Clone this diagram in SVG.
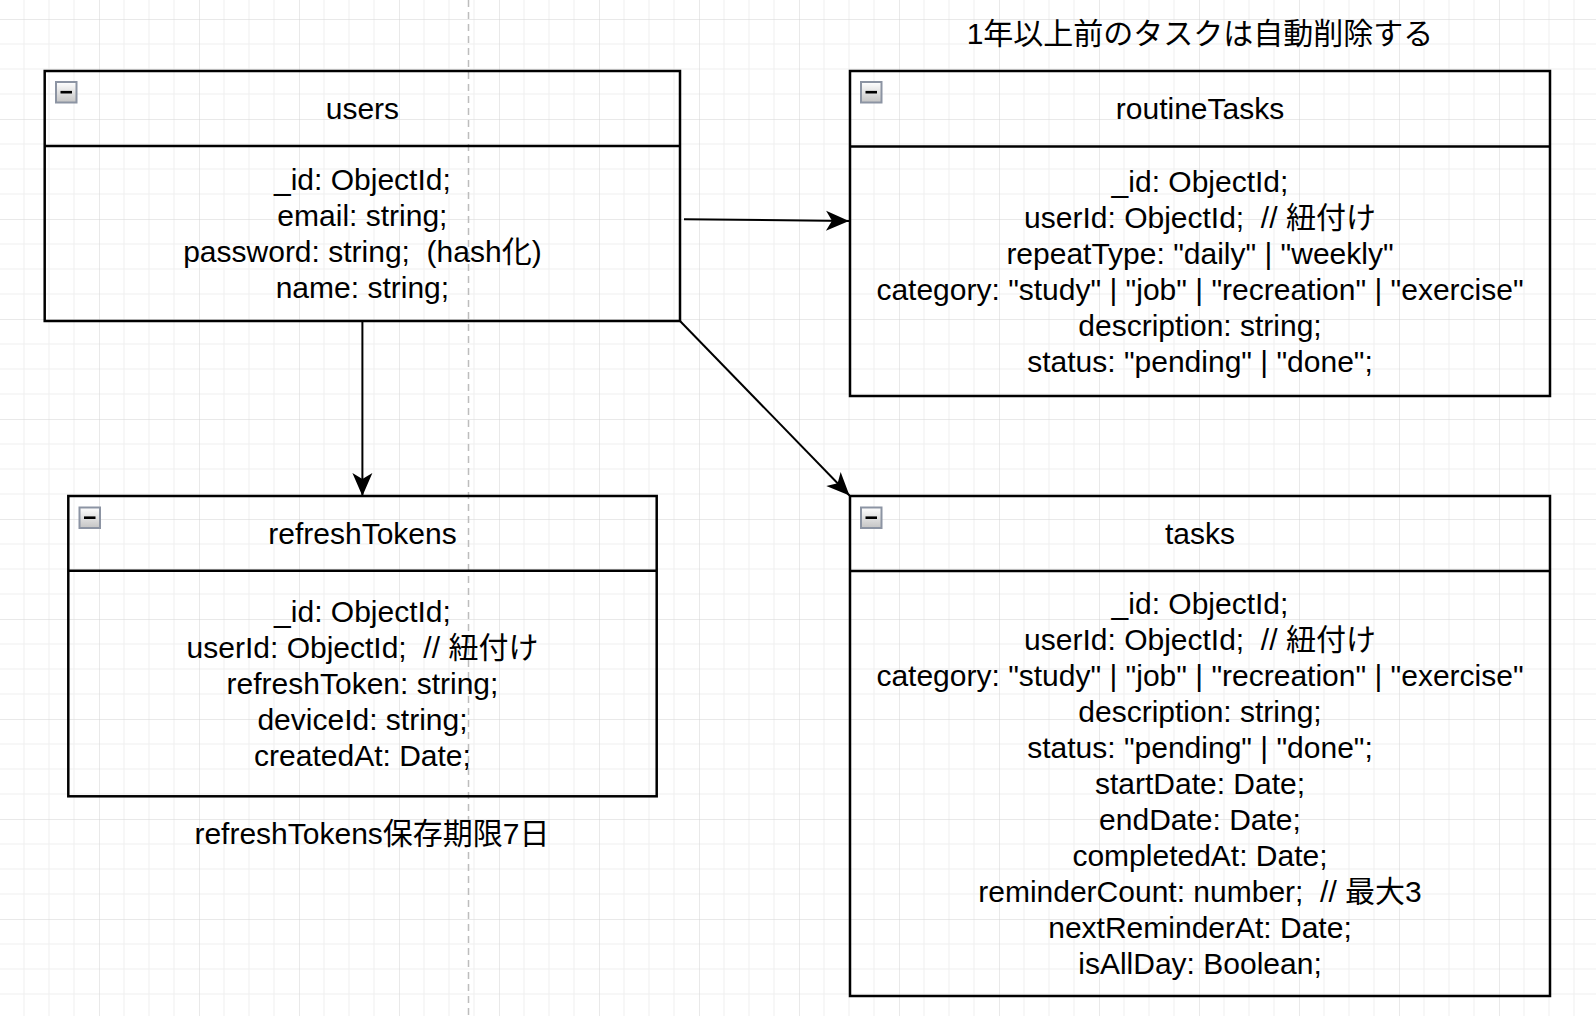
<svg xmlns="http://www.w3.org/2000/svg" width="1596" height="1016" viewBox="0 0 1596 1016">
  <style>
    .box { fill: none; stroke: #000; stroke-width: 2.5; }
    .t { font-family: "Liberation Sans", "Noto Sans CJK JP", sans-serif; font-size: 30px; fill: #000; text-anchor: middle; white-space: pre; }
    .edge { stroke: #000; stroke-width: 2; fill: none; }
    .icon { fill: url(#ig); stroke: #8c94a3; stroke-width: 2; }
    .minus { stroke: #000; stroke-width: 2.6; }
  </style>
  <defs>
    <pattern id="grid" patternUnits="userSpaceOnUse" x="-1" y="19" width="100" height="100">
      <path d="M25 0V100M50 0V100M75 0V100M0 25H100M0 50H100M0 75H100" stroke="#efefef" stroke-width="1"/>
      <path d="M0 0V100M0 0H100" stroke="#d4d4d4" stroke-width="1"/>
    </pattern>
    <linearGradient id="ig" x1="0" y1="0" x2="0" y2="1">
      <stop offset="0" stop-color="#ffffff"/>
      <stop offset="1" stop-color="#c4c4c4"/>
    </linearGradient>
    <marker id="arr" markerUnits="userSpaceOnUse" viewBox="-24 -11 25 22" refX="0" refY="0" markerWidth="25" markerHeight="22" orient="auto">
      <path d="M0,0 L-23,-10 L-17,0 L-23,10 Z" fill="#000"/>
    </marker>
  </defs>
  <rect width="1596" height="1016" fill="#fff"/>
  <rect width="1596" height="1016" fill="url(#grid)"/>
  <line x1="468.5" y1="0" x2="468.5" y2="1016" stroke="#bdbdbd" stroke-width="1.5" stroke-dasharray="7 5"/>

  <g id="connectors">
    <line class="edge" x1="684" y1="219.3" x2="849" y2="221" marker-end="url(#arr)"/>
    <line class="edge" x1="362.4" y1="321" x2="362.4" y2="496" marker-end="url(#arr)"/>
    <line class="edge" x1="680" y1="321" x2="849.5" y2="495.5" marker-end="url(#arr)"/>
  </g>

  <g id="users">
    <rect class="box" x="44.7" y="71" width="635.3" height="250"/>
    <line class="box" x1="44.7" y1="146" x2="680" y2="146"/>
    <rect class="icon" x="56" y="82" width="20.5" height="20.5"/>
    <line class="minus" x1="60.5" y1="92.2" x2="72" y2="92.2"/>
    <text class="t" x="362.4" y="119">users</text>
    <text class="t"><tspan x="362.4" y="190">_id: ObjectId;</tspan><tspan x="362.4" y="226">email: string;</tspan><tspan x="362.4" y="262">password: string;  (hash化)</tspan><tspan x="362.4" y="298">name: string;</tspan></text>
  </g>

  <g id="routineTasks">
    <rect class="box" x="850" y="71" width="700" height="325"/>
    <line class="box" x1="850" y1="146.5" x2="1550" y2="146.5"/>
    <rect class="icon" x="861" y="82" width="20.5" height="20.5"/>
    <line class="minus" x1="865.5" y1="92.2" x2="877" y2="92.2"/>
    <text class="t" x="1200" y="119.3">routineTasks</text>
    <text class="t"><tspan x="1200" y="191.8">_id: ObjectId;</tspan><tspan x="1200" y="227.8">userId: ObjectId;  // 紐付け</tspan><tspan x="1200" y="263.8">repeatType: "daily" | "weekly"</tspan><tspan x="1200" y="299.8">category: "study" | "job" | "recreation" | "exercise"</tspan><tspan x="1200" y="335.8">description: string;</tspan><tspan x="1200" y="371.8">status: "pending" | "done";</tspan></text>
  </g>

  <g id="refreshTokens">
    <rect class="box" x="68.3" y="496" width="588.4" height="300.3"/>
    <line class="box" x1="68.3" y1="570.7" x2="656.7" y2="570.7"/>
    <rect class="icon" x="79.5" y="507.5" width="20.5" height="20.5"/>
    <line class="minus" x1="84" y1="517.7" x2="95.5" y2="517.7"/>
    <text class="t" x="362.5" y="544">refreshTokens</text>
    <text class="t"><tspan x="362.5" y="622">_id: ObjectId;</tspan><tspan x="362.5" y="658">userId: ObjectId;  // 紐付け</tspan><tspan x="362.5" y="694">refreshToken: string;</tspan><tspan x="362.5" y="730">deviceId: string;</tspan><tspan x="362.5" y="766">createdAt: Date;</tspan></text>
  </g>

  <g id="tasks">
    <rect class="box" x="850" y="496" width="700" height="500"/>
    <line class="box" x1="850" y1="571" x2="1550" y2="571"/>
    <rect class="icon" x="861" y="507.5" width="20.5" height="20.5"/>
    <line class="minus" x1="865.5" y1="517.7" x2="877" y2="517.7"/>
    <text class="t" x="1200" y="544">tasks</text>
    <text class="t"><tspan x="1200" y="614">_id: ObjectId;</tspan><tspan x="1200" y="650">userId: ObjectId;  // 紐付け</tspan><tspan x="1200" y="686">category: "study" | "job" | "recreation" | "exercise"</tspan><tspan x="1200" y="722">description: string;</tspan><tspan x="1200" y="758">status: "pending" | "done";</tspan><tspan x="1200" y="794">startDate: Date;</tspan><tspan x="1200" y="830">endDate: Date;</tspan><tspan x="1200" y="866">completedAt: Date;</tspan><tspan x="1200" y="902">reminderCount: number;  // 最大3</tspan><tspan x="1200" y="938">nextReminderAt: Date;</tspan><tspan x="1200" y="974">isAllDay: Boolean;</tspan></text>
  </g>

  <g id="note-autodelete">
    <text class="t" x="1200" y="44">1年以上前のタスクは自動削除する</text>
  </g>
  <g id="note-refresh">
    <text class="t" x="372" y="843.5">refreshTokens保存期限7日</text>
  </g>
</svg>
